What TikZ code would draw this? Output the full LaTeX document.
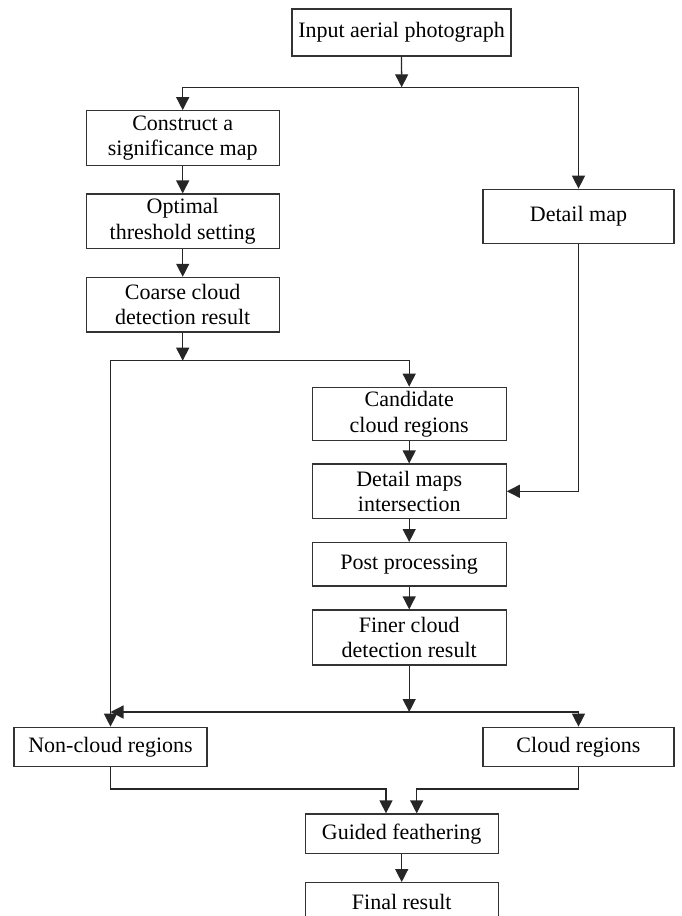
\documentclass[tikz,border=0pt]{standalone}
\usepackage{fontspec}
\setmainfont{Liberation Serif}
\usetikzlibrary{arrows.meta}
\begin{document}
\begin{tikzpicture}[x=1pt,y=-1pt,
  box/.style={draw=black!80,line width=1.3pt,rectangle,inner sep=0pt,align=center,
    font=\fontsize{22}{25.5}\selectfont},
  arr/.style={draw=black!85,line width=1.3pt,-{Triangle[length=13pt,width=13pt]}},
  ln/.style={draw=black!85,line width=1.3pt}]
\useasboundingbox (0,0) rectangle (682,916);
\node[box,minimum width=219pt,minimum height=47pt] (inp) at (401.5,32.5) {Input aerial photograph};
\node[box,minimum width=193pt,minimum height=54.5pt] (cons) at (182.7,138) {Construct a\\significance map};
\node[box,minimum width=193pt,minimum height=54.5pt] (opt) at (182.7,221.3) {Optimal\\threshold setting};
\node[box,minimum width=193pt,minimum height=54.5pt] (coarse) at (182.7,304.7) {Coarse cloud\\detection result};
\node[box,minimum width=191pt,minimum height=54pt] (det) at (578.5,216.3) {Detail map};
\node[box,minimum width=194pt,minimum height=53.4pt] (cand) at (409.2,414) {Candidate\\cloud regions};
\node[box,minimum width=194pt,minimum height=54.5pt] (inter) at (409.2,491.3) {Detail maps\\intersection};
\node[box,minimum width=194pt,minimum height=43.3pt] (post) at (409.2,564.3) {Post processing};
\node[box,minimum width=194pt,minimum height=55pt] (finer) at (409.2,637.5) {Finer cloud\\detection result};
\node[box,minimum width=193pt,minimum height=39.4pt] (non) at (110.5,747) {Non-cloud regions};
\node[box,minimum width=191pt,minimum height=39.4pt] (cloud) at (578.5,747) {Cloud regions};
\node[box,minimum width=193pt,minimum height=39.4pt] (guided) at (401.7,833.7) {Guided feathering};
\node[box,minimum width=193pt,minimum height=39.4pt] (final) at (401.7,902.4) {Final result};
\coordinate (j1) at (401.7,87.3);
\coordinate (j2) at (182.7,360.7);
\coordinate (j3) at (409.2,712);
\coordinate (g1) at (386,789);
\coordinate (g2) at (416.7,789);
\draw[arr] (inp.south) -- (j1);
\draw[arr] (j1) -| (cons.north);
\draw[arr] (j1) -| (det.north);
\draw[arr] (cons) -- (opt);
\draw[arr] (opt) -- (coarse);
\draw[arr] (coarse.south) -- (j2);
\draw[arr] (j2) -| (cand.north);
\draw[arr] (j2) -| (non.north);
\draw[arr] (cand) -- (inter);
\draw[arr] (det.south) |- (inter.east);
\draw[arr] (inter) -- (post);
\draw[arr] (post) -- (finer);
\draw[arr] (finer.south) -- (j3);
\draw[arr] (j3) -- (non.north |- j3);
\draw[arr] (j3) -| (cloud.north);
\draw[arr] (non.south) |- (g1) -- (g1 |- guided.north);
\draw[arr] (cloud.south) |- (g2) -- (g2 |- guided.north);
\draw[arr] (guided) -- (final);
\end{tikzpicture}
\end{document}
